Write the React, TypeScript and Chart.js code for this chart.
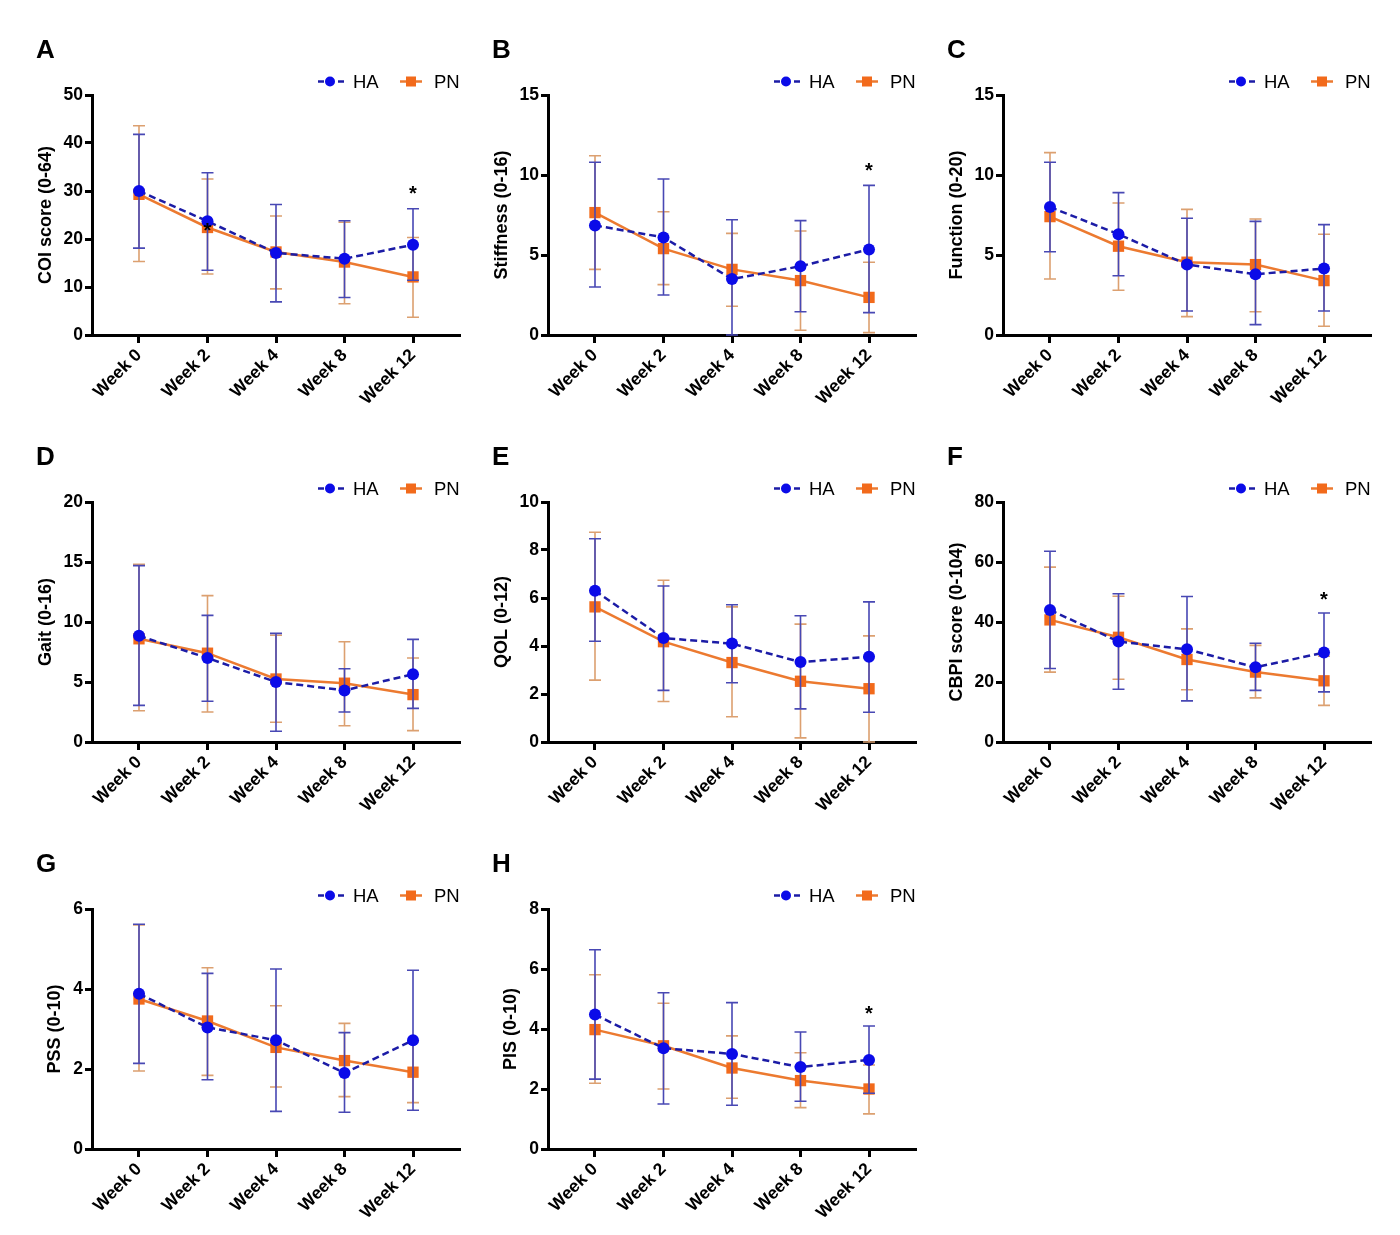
import React, { useEffect, useRef } from 'react';
import { Chart, registerables } from 'chart.js';

Chart.register(...registerables);

const FONT = '"Liberation Sans", Arial, Helvetica, sans-serif';

const weeks = ['Week 0', 'Week 2', 'Week 4', 'Week 8', 'Week 12'];
const seriesNames = ['HA', 'PN'];

// Panel letters, y-axis titles and scales
const letters = ['A', 'B', 'C', 'D', 'E', 'F', 'G', 'H'];
const yTitles = ['COI score (0-64)', 'Stiffness (0-16)', 'Function (0-20)', 'Gait (0-16)', 'QOL (0-12)', 'CBPI score (0-104)', 'PSS (0-10)', 'PIS (0-10)'];
const yMaxes = [50, 15, 15, 20, 10, 80, 6, 8];
const ySteps = [10, 5, 5, 5, 2, 20, 2, 2];

// A: COI
const coiHA = [30.0, 23.7, 17.1, 15.9, 18.8];
const coiHAHi = [41.8, 33.8, 27.2, 23.8, 26.3];
const coiHALo = [18.1, 13.5, 6.9, 7.8, 11.4];
const coiPN = [29.3, 22.4, 17.3, 15.2, 12.1];
const coiPNHi = [43.6, 32.5, 24.8, 23.5, 20.3];
const coiPNLo = [15.3, 12.7, 9.6, 6.5, 3.7];

// B: Stiffness
const stiffHA = [6.85, 6.1, 3.5, 4.3, 5.35];
const stiffHAHi = [10.8, 9.75, 7.2, 7.15, 9.35];
const stiffHALo = [3.0, 2.5, 0.0, 1.45, 1.4];
const stiffPN = [7.65, 5.4, 4.1, 3.4, 2.35];
const stiffPNHi = [11.2, 7.7, 6.35, 6.5, 4.55];
const stiffPNLo = [4.1, 3.15, 1.8, 0.3, 0.15];

// C: Function
const funcHA = [8.0, 6.3, 4.4, 3.8, 4.15];
const funcHAHi = [10.8, 8.9, 7.3, 7.1, 6.9];
const funcHALo = [5.2, 3.7, 1.5, 0.65, 1.5];
const funcPN = [7.4, 5.55, 4.55, 4.4, 3.4];
const funcPNHi = [11.4, 8.25, 7.85, 7.25, 6.3];
const funcPNLo = [3.5, 2.8, 1.15, 1.45, 0.55];

// D: Gait
const gaitHA = [8.85, 7.0, 5.0, 4.3, 5.65];
const gaitHAHi = [14.7, 10.55, 9.05, 6.1, 8.55];
const gaitHALo = [3.05, 3.4, 0.9, 2.5, 2.8];
const gaitPN = [8.6, 7.4, 5.25, 4.9, 3.95];
const gaitPNHi = [14.8, 12.2, 8.9, 8.35, 7.0];
const gaitPNLo = [2.6, 2.5, 1.65, 1.35, 0.95];

// E: QOL
const qolHA = [6.3, 4.33, 4.1, 3.33, 3.55];
const qolHAHi = [8.47, 6.5, 5.72, 5.26, 5.84];
const qolHALo = [4.2, 2.15, 2.47, 1.38, 1.24];
const qolPN = [5.63, 4.18, 3.31, 2.53, 2.22];
const qolPNHi = [8.74, 6.74, 5.63, 4.91, 4.42];
const qolPNLo = [2.58, 1.69, 1.05, 0.17, 0.0];

// F: CBPI
const cbpiHA = [44.0, 33.5, 30.9, 24.9, 29.8];
const cbpiHAHi = [63.6, 49.4, 48.5, 32.9, 43.0];
const cbpiHALo = [24.5, 17.6, 13.7, 17.2, 16.7];
const cbpiPN = [40.7, 34.9, 27.5, 23.3, 20.4];
const cbpiPNHi = [58.3, 48.6, 37.7, 32.2, 28.6];
const cbpiPNLo = [23.3, 20.9, 17.4, 14.7, 12.2];

// G: PSS
const pssHA = [3.88, 3.04, 2.72, 1.9, 2.72];
const pssHAHi = [5.62, 4.39, 4.5, 2.91, 4.47];
const pssHALo = [2.14, 1.73, 0.94, 0.92, 0.97];
const pssPN = [3.75, 3.2, 2.54, 2.21, 1.92];
const pssPNHi = [5.6, 4.53, 3.58, 3.14, 2.68];
const pssPNLo = [1.95, 1.84, 1.55, 1.31, 1.16];

// H: PIS
const pisHA = [4.48, 3.36, 3.17, 2.73, 2.97];
const pisHAHi = [6.64, 5.21, 4.88, 3.9, 4.1];
const pisHALo = [2.33, 1.5, 1.46, 1.59, 1.86];
const pisPN = [3.98, 3.44, 2.7, 2.28, 2.0];
const pisPNHi = [5.81, 4.86, 3.77, 3.21, 2.8];
const pisPNLo = [2.19, 2.0, 1.69, 1.38, 1.17];

// Significance markers: [panel index, week index, y value]
const stars: [number, number, number][] = [
  [0, 1, 22.2],
  [0, 4, 30.0],
  [1, 4, 10.4],
  [5, 4, 48.2],
  [7, 4, 4.6],
];

const haMeans = [coiHA, stiffHA, funcHA, gaitHA, qolHA, cbpiHA, pssHA, pisHA];
const haHis = [coiHAHi, stiffHAHi, funcHAHi, gaitHAHi, qolHAHi, cbpiHAHi, pssHAHi, pisHAHi];
const haLos = [coiHALo, stiffHALo, funcHALo, gaitHALo, qolHALo, cbpiHALo, pssHALo, pisHALo];
const pnMeans = [coiPN, stiffPN, funcPN, gaitPN, qolPN, cbpiPN, pssPN, pisPN];
const pnHis = [coiPNHi, stiffPNHi, funcPNHi, gaitPNHi, qolPNHi, cbpiPNHi, pssPNHi, pisPNHi];
const pnLos = [coiPNLo, stiffPNLo, funcPNLo, gaitPNLo, qolPNLo, cbpiPNLo, pssPNLo, pisPNLo];

// Layout (page pixels)
const colAxisX = [92, 548, 1003];
const rowTopY = [95, 502, 909];
const PLOT_W = 368;
const PLOT_H = 240;
const PAD_L = 90;
const PAD_T = 70;
const PAD_R = 12;
const X_H = 80;
const Y_W = 60;

const HA_POINT = '#0b0be8';
const HA_LINE = '#1c1ca6';
const HA_ERR = '#4848b4';
const PN_POINT = '#f26a1b';
const PN_LINE = '#ec7a30';
const PN_ERR = '#dca070';

function PanelChart({ idx }: { idx: number }) {
  const ref = useRef<HTMLCanvasElement>(null);
  useEffect(() => {
    const canvas = ref.current;
    if (!canvas) return;
    const his = [haHis[idx], pnHis[idx]];
    const los = [haLos[idx], pnLos[idx]];
    const errColors = [HA_ERR, PN_ERR];

    const plugin = {
      id: 'panelDecor' + idx,
      beforeDatasetDraw(chart: any, args: any) {
        const i = args.index;
        const hi = his[i];
        const lo = los[i];
        const xs = chart.scales.x;
        const ys = chart.scales.y;
        const ctx = chart.ctx;
        ctx.save();
        ctx.strokeStyle = errColors[i];
        ctx.lineWidth = 1.6;
        for (let k = 0; k < hi.length; k++) {
          const x = xs.getPixelForValue(k);
          const yT = ys.getPixelForValue(hi[k]);
          const yB = ys.getPixelForValue(lo[k]);
          ctx.beginPath();
          ctx.moveTo(x, yT);
          ctx.lineTo(x, yB);
          ctx.moveTo(x - 6, yT);
          ctx.lineTo(x + 6, yT);
          ctx.moveTo(x - 6, yB);
          ctx.lineTo(x + 6, yB);
          ctx.stroke();
        }
        ctx.restore();
      },
      afterDraw(chart: any) {
        const ctx = chart.ctx;
        const area = chart.chartArea;
        const xs = chart.scales.x;
        const ys = chart.scales.y;
        ctx.save();
        ctx.fillStyle = '#000';
        // panel letter
        ctx.font = `bold 26px ${FONT}`;
        ctx.textAlign = 'left';
        ctx.textBaseline = 'alphabetic';
        ctx.fillText(letters[idx], area.left - 56, area.top - 37);
        // y title
        ctx.font = `bold 17.5px ${FONT}`;
        let maxW = 0;
        for (const t of ys.ticks) {
          const w = ctx.measureText(String(t.label)).width;
          if (w > maxW) maxW = w;
        }
        ctx.font = `bold 18px ${FONT}`;
        const cx = area.left - (maxW + 27);
        const cy = (area.top + area.bottom) / 2;
        ctx.save();
        ctx.translate(cx, cy);
        ctx.rotate(-Math.PI / 2);
        ctx.textAlign = 'center';
        ctx.textBaseline = 'middle';
        ctx.fillText(yTitles[idx], 0, 0);
        ctx.restore();
        // legend
        const ly = area.top - 13.5;
        const lx = area.left;
        ctx.lineWidth = 2.5;
        ctx.strokeStyle = HA_LINE;
        ctx.setLineDash([6, 4]);
        ctx.beginPath();
        ctx.moveTo(lx + 226, ly);
        ctx.lineTo(lx + 252, ly);
        ctx.stroke();
        ctx.setLineDash([]);
        ctx.fillStyle = HA_POINT;
        ctx.beginPath();
        ctx.arc(lx + 238, ly, 5, 0, Math.PI * 2);
        ctx.fill();
        ctx.strokeStyle = PN_LINE;
        ctx.beginPath();
        ctx.moveTo(lx + 308, ly);
        ctx.lineTo(lx + 330, ly);
        ctx.stroke();
        ctx.fillStyle = PN_POINT;
        ctx.fillRect(lx + 319 - 5, ly - 5, 10, 10);
        ctx.fillStyle = '#000';
        ctx.font = `18.5px ${FONT}`;
        ctx.textAlign = 'left';
        ctx.textBaseline = 'middle';
        ctx.fillText(seriesNames[0], lx + 261, ly + 1);
        ctx.fillText(seriesNames[1], lx + 342, ly + 1);
        // stars
        ctx.font = `bold 20px ${FONT}`;
        ctx.textAlign = 'center';
        ctx.textBaseline = 'middle';
        for (const s of stars) {
          if (s[0] !== idx) continue;
          ctx.fillText('*', xs.getPixelForValue(s[1]), ys.getPixelForValue(s[2]) + 3);
        }
        ctx.restore();
      },
    };

    const chart = new Chart(canvas, {
      type: 'line',
      data: {
        datasets: [
          {
            label: seriesNames[0],
            data: haMeans[idx].map((v, k) => ({ x: k, y: v })),
            borderColor: HA_LINE,
            borderWidth: 2.5,
            borderDash: [7, 4],
            pointStyle: 'circle',
            pointRadius: 6,
            pointBackgroundColor: HA_POINT,
            pointBorderColor: HA_POINT,
            pointBorderWidth: 0,
            tension: 0,
            clip: false,
          },
          {
            label: seriesNames[1],
            data: pnMeans[idx].map((v, k) => ({ x: k, y: v })),
            borderColor: PN_LINE,
            borderWidth: 2.5,
            pointStyle: 'rect',
            pointRadius: 8,
            pointBackgroundColor: PN_POINT,
            pointBorderColor: PN_POINT,
            pointBorderWidth: 0,
            tension: 0,
            clip: false,
          },
        ],
      },
      options: {
        responsive: false,
        animation: false,
        events: [],
        layout: { padding: { left: PAD_L - Y_W, top: PAD_T, right: PAD_R, bottom: 0 } },
        plugins: { legend: { display: false }, tooltip: { enabled: false }, title: { display: false } },
        scales: {
          x: {
            type: 'linear',
            bounds: 'data',
            min: -0.686,
            max: 4.686,
            afterBuildTicks: (s: any) => {
              s.ticks = weeks.map((_, k) => ({ value: k }));
            },
            afterFit: (s: any) => {
              s.height = X_H;
            },
            ticks: {
              autoSkip: false,
              maxRotation: 45,
              minRotation: 45,
              padding: 2,
              color: '#000',
              font: { family: FONT, size: 17.5, weight: 'bold' },
              callback: (_v: any, k: number) => weeks[k],
            },
            grid: { drawOnChartArea: false, drawTicks: true, tickLength: 8, tickWidth: 3, tickColor: '#000' },
            border: { display: true, width: 3, color: '#000' },
          },
          y: {
            type: 'linear',
            min: 0,
            max: yMaxes[idx],
            afterFit: (s: any) => {
              s.width = Y_W;
            },
            ticks: {
              stepSize: ySteps[idx],
              padding: 2,
              color: '#000',
              font: { family: FONT, size: 17.5, weight: 'bold' },
            },
            grid: { drawOnChartArea: false, drawTicks: true, tickLength: 7, tickWidth: 3, tickColor: '#000' },
            border: { display: true, width: 3, color: '#000' },
          },
        },
      } as any,
      plugins: [plugin],
    });
    return () => chart.destroy();
  }, [idx]);

  const col = idx % 3;
  const row = Math.floor(idx / 3);
  const left = colAxisX[col] - PAD_L;
  const top = rowTopY[row] - PAD_T;
  const w = PAD_L + PLOT_W + PAD_R;
  const h = PAD_T + PLOT_H + X_H;
  return (
    <canvas
      ref={ref}
      width={w}
      height={h}
      style={{ position: 'absolute', left, top, width: w, height: h }}
    />
  );
}

export default function App() {
  return (
    <div style={{ position: 'absolute', left: 0, top: 0, width: 1400, height: 1235, overflow: 'hidden', background: '#fff' }}>
      {letters.map((_, i) => (
        <PanelChart key={i} idx={i} />
      ))}
    </div>
  );
}
